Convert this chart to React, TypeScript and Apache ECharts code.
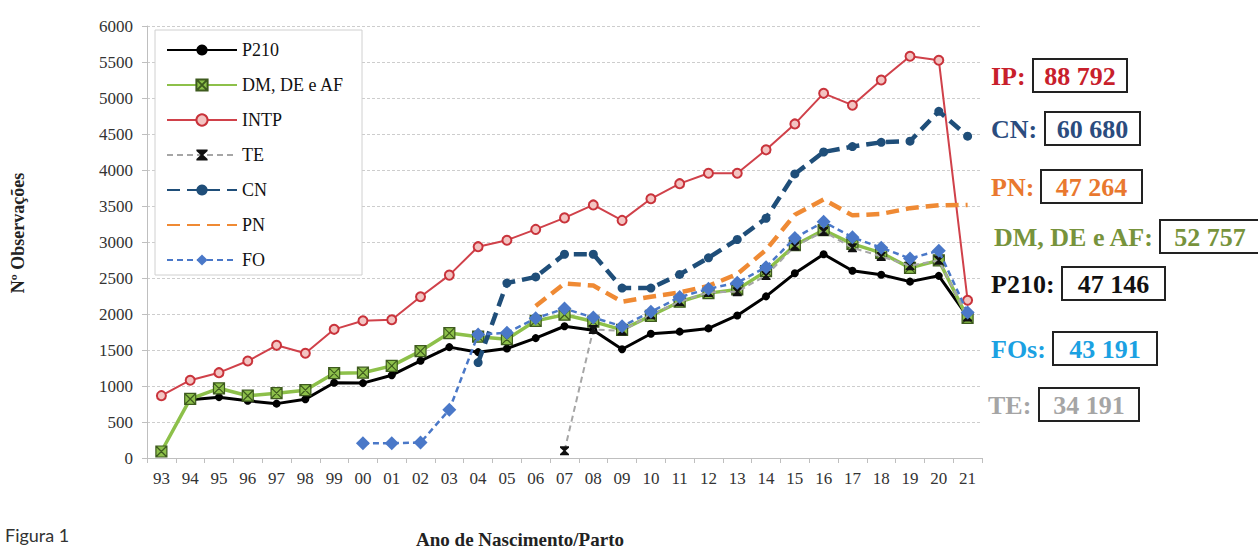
import React, { useEffect, useRef } from "react";
import * as echarts from "echarts";

const categories = ["93","94","95","96","97","98","99","00","01","02","03","04","05","06","07","08","09","10","11","12","13","14","15","16","17","18","19","20","21"];
const yTicks = { min: 0, max: 6000, interval: 500 };

const p210 = [null, 810, 845, 795, 755, 815, 1045, 1040, 1150, 1350, 1540, 1470, 1520, 1665, 1830, 1775, 1510, 1725, 1755, 1800, 1980, 2245, 2565, 2830, 2600, 2545, 2450, 2530, 1965];
const dmDeAf = [90, 820, 968, 865, 900, 942, 1178, 1185, 1280, 1485, 1735, 1685, 1650, 1905, 1990, 1895, 1780, 1975, 2170, 2290, 2340, 2595, 2955, 3165, 2975, 2850, 2640, 2745, 1945];
const intp = [866, 1080, 1185, 1347, 1565, 1455, 1787, 1907, 1920, 2240, 2540, 2935, 3025, 3175, 3335, 3515, 3300, 3600, 3810, 3955, 3955, 4280, 4640, 5065, 4900, 5250, 5580, 5525, 2190];
const te = [null, null, null, null, null, null, null, null, null, null, null, null, null, null, 100, 1785, 1765, 1990, 2170, 2300, 2310, 2535, 2940, 3145, 2920, 2800, 2670, 2745, 1960];
const cn = [null, null, null, null, null, null, null, null, null, null, null, 1325, 2430, 2515, 2830, 2830, 2360, 2360, 2550, 2780, 3035, 3330, 3945, 4250, 4325, 4385, 4400, 4815, 4470];
const pn = [null, null, null, null, null, null, null, null, null, null, null, null, null, 2110, 2425, 2395, 2170, 2240, 2300, 2390, 2555, 2890, 3380, 3590, 3370, 3390, 3470, 3510, 3515];
const fo = [null, null, null, null, null, null, null, 205, 205, 215, 670, 1715, 1740, 1940, 2075, 1950, 1830, 2030, 2235, 2350, 2435, 2650, 3055, 3280, 3065, 2920, 2770, 2880, 2020];

const totalNames = ["IP:", "CN:", "PN:", "DM, DE e AF:", "P210:", "FOs:", "TE:"];
const totalValues = ["88 792", "60 680", "47 264", "52 757", "47 146", "43 191", "34 191"];
const totalColors = ["#C8202B", "#2B4C7E", "#E9782F", "#77933C", "#111111", "#1BA1E2", "#A5A5A5"];

const yTitle = "Nº Observações";
const xTitle = "Ano de Nascimento/Parto";
const figLabel = "Figura 1";

const SERIF = "Liberation Serif";

// layout of the right-hand total boxes: [textX, centerY, boxX, boxW]
const totalLayout = [
  [991, 76, 1033, 94],
  [991, 129, 1045, 95],
  [991, 187, 1041, 101],
  [994, 237, 1160, 100],
  [991, 284, 1062, 103],
  [991, 349, 1053, 104],
  [988, 405, 1039, 100],
];

export default function App() {
  const ref = useRef<HTMLDivElement>(null);
  useEffect(() => {
    if (!ref.current) return;
    const chart = echarts.init(ref.current, undefined, { renderer: "svg" });

    const graphics: any[] = [
      {
        type: "rect",
        z: 3,
        shape: { x: 155, y: 30, width: 207, height: 245 },
        style: { fill: "#fff", stroke: "#D0D0D0", lineWidth: 1 },
      },
      {
        type: "text",
        x: 18,
        y: 233,
        rotation: Math.PI / 2,
        style: {
          text: yTitle,
          font: `bold 18px "${SERIF}"`,
          fill: "#222",
          align: "center",
          verticalAlign: "middle",
          textAlign: "center",
          textVerticalAlign: "middle",
        },
      },
      {
        type: "text",
        x: 520,
        y: 539,
        style: {
          text: xTitle,
          font: `bold 19px "${SERIF}"`,
          fill: "#222",
          align: "center",
          verticalAlign: "middle",
          textAlign: "center",
          textVerticalAlign: "middle",
        },
      },
      {
        type: "text",
        x: 5,
        y: 535,
        style: {
          text: figLabel,
          font: `18px Lato`,
          fill: "#333",
          align: "left",
          verticalAlign: "middle",
          textAlign: "left",
          textVerticalAlign: "middle",
        },
      },
    ];

    totalNames.forEach((name, i) => {
      const [tx, cy, bx, bw] = totalLayout[i];
      graphics.push({
        type: "text",
        x: tx,
        y: cy,
        style: {
          text: name,
          font: `bold 26px "${SERIF}"`,
          fill: totalColors[i],
          align: "left",
          verticalAlign: "middle",
          textAlign: "left",
          textVerticalAlign: "middle",
        },
      });
      graphics.push({
        type: "rect",
        shape: { x: bx, y: cy - 17, width: bw, height: 33 },
        style: { fill: "none", stroke: "#222", lineWidth: 2 },
      });
      graphics.push({
        type: "text",
        x: bx + bw / 2,
        y: cy,
        style: {
          text: totalValues[i],
          font: `bold 26px "${SERIF}"`,
          fill: totalColors[i],
          align: "center",
          verticalAlign: "middle",
          textAlign: "center",
          textVerticalAlign: "middle",
        },
      });
    });

    const option: any = {
      animation: false,
      backgroundColor: "#fff",
      grid: { left: 147, right: 276, top: 26, bottom: 92, containLabel: false },
      legend: {
        orient: "vertical",
        left: 158,
        top: 37,
        itemWidth: 70,
        itemHeight: 14,
        itemGap: 17,
        padding: [4, 6, 4, 8],
        textStyle: { fontFamily: SERIF, fontSize: 18, color: "#111" },
        data: ["P210", "DM, DE e AF", "INTP", "TE", "CN", "PN", "FO"],
        z: 5,
      },
      xAxis: {
        type: "category",
        data: categories,
        boundaryGap: true,
        axisLine: { lineStyle: { color: "#BFBFBF", width: 1 } },
        axisTick: { show: true, length: 5, lineStyle: { color: "#BFBFBF" } },
        axisLabel: { fontFamily: SERIF, fontSize: 17, color: "#333", margin: 12 },
        splitLine: { show: false },
      },
      yAxis: {
        type: "value",
        min: yTicks.min,
        max: yTicks.max,
        interval: yTicks.interval,
        axisLine: { show: true, lineStyle: { color: "#BFBFBF", width: 1 } },
        axisTick: { show: true, length: 5, lineStyle: { color: "#BFBFBF" } },
        axisLabel: {
          fontFamily: SERIF,
          fontSize: 17,
          color: "#333",
          margin: 14,
          formatter: (v: number) => String(v),
        },
        splitLine: { show: true, lineStyle: { color: "#CDCDCD", type: [3, 2], width: 1 } },
      },
      series: [
        {
          name: "P210",
          type: "line",
          data: p210,
          symbol: "circle",
          symbolSize: 8,
          itemStyle: { color: "#000" },
          lineStyle: { color: "#000", width: 3 },
          z: 2,
        },
        {
          name: "DM, DE e AF",
          type: "line",
          data: dmDeAf,
          symbol: "path://M0,0 L10,0 L10,10 L0,10 Z M0,0 L10,10 M10,0 L0,10",
          symbolSize: 11,
          itemStyle: { color: "#8DC04A", borderColor: "#3E5B1E", borderWidth: 1.2 },
          lineStyle: { color: "#8DC04A", width: 3.5 },
          z: 3,
        },
        {
          name: "INTP",
          type: "line",
          data: intp,
          symbol: "circle",
          symbolSize: 9,
          itemStyle: { color: "#F3C4C2", borderColor: "#C9333B", borderWidth: 2 },
          lineStyle: { color: "#D0414A", width: 2 },
          z: 4,
        },
        {
          name: "TE",
          type: "line",
          data: te,
          symbol: "path://M0,0 L10,0 L10,1.5 L6.2,5 L10,8.5 L10,10 L0,10 L0,8.5 L3.8,5 L0,1.5 Z",
          symbolSize: 9,
          itemStyle: { color: "#111" },
          lineStyle: { color: "#A6A6A6", width: 2, type: [6, 4] },
          z: 5,
        },
        {
          name: "CN",
          type: "line",
          data: cn,
          symbol: "circle",
          symbolSize: 9,
          itemStyle: { color: "#1F4E79" },
          lineStyle: { color: "#1F4E79", width: 4.5, type: [13, 7] },
          z: 6,
        },
        {
          name: "PN",
          type: "line",
          data: pn,
          symbol: "none",
          itemStyle: { color: "rgba(0,0,0,0)" },
          lineStyle: { color: "#EF8A34", width: 4.5, type: [13, 7] },
          z: 7,
        },
        {
          name: "FO",
          type: "line",
          data: fo,
          symbol: "diamond",
          symbolSize: 14,
          itemStyle: { color: "#4A78C8" },
          lineStyle: { color: "#4A78C8", width: 2.5, type: [6, 4] },
          z: 8,
        },
      ],
      graphic: graphics,
    };
    chart.setOption(option);
    return () => chart.dispose();
  }, []);
  return (
    <div
      ref={ref}
      style={{ position: "fixed", left: 0, top: 0, width: 1258, height: 550, background: "#fff" }}
    />
  );
}
